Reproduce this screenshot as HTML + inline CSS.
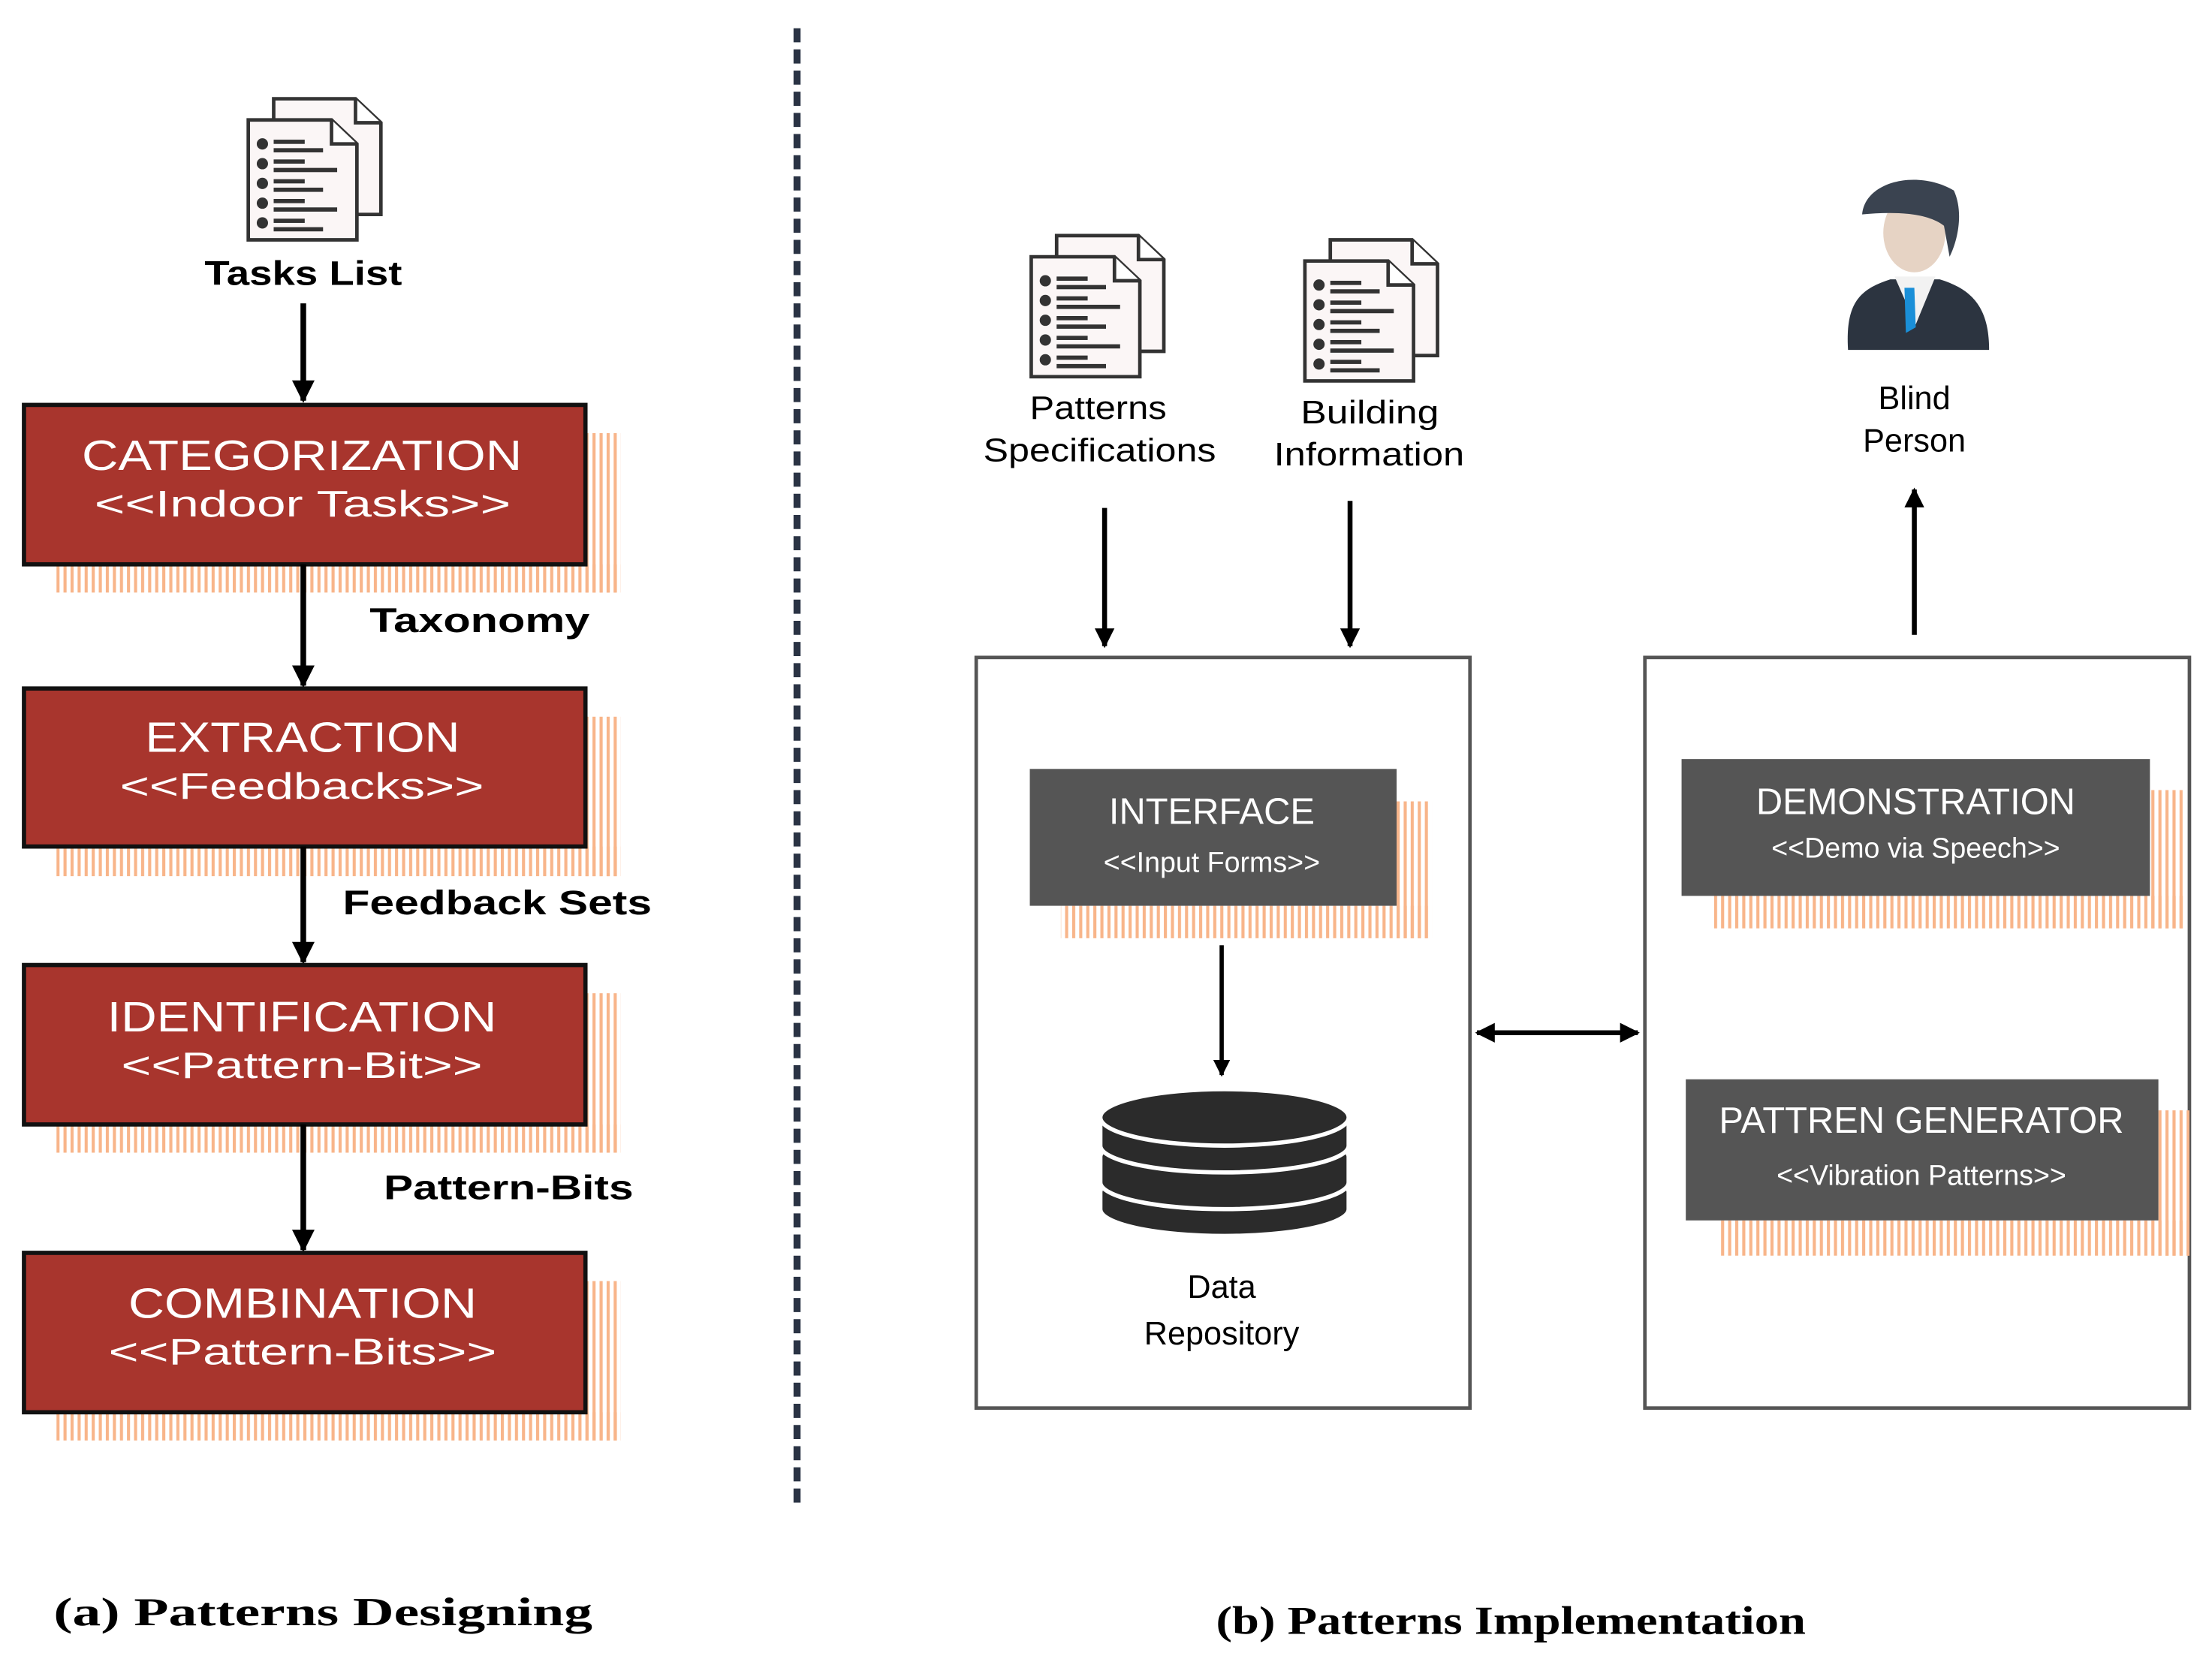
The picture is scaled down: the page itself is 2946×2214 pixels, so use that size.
<!DOCTYPE html>
<html><head><meta charset="utf-8"><style>
html,body{margin:0;padding:0;background:#fff;}
svg{display:block;}
text{font-family:"Liberation Sans",sans-serif;}
text.serif{font-family:"Liberation Serif",serif;}
</style></head><body>
<svg width="2946" height="2214" viewBox="0 0 1568 1178" preserveAspectRatio="none" xmlns="http://www.w3.org/2000/svg">
<defs>
<pattern id="hatch" width="5" height="10" patternUnits="userSpaceOnUse">
<rect x="0" y="0" width="2.2" height="10" fill="#f8b58a"/>
</pattern>
<marker id="ah" viewBox="0 0 10 10" refX="9" refY="5" markerWidth="4" markerHeight="4" orient="auto-start-reverse">
<path d="M0,0 L10,5 L0,10 z" fill="#000"/>
</marker>
<g id="doc">
<path d="M18,0 L76,0 L94,17 L94,82 L18,82 z" fill="#fbf6f6" stroke="#333" stroke-width="2.5"/>
<path d="M76,0 L76,17 L94,17" fill="#fff" stroke="#333" stroke-width="2.5"/>
<path d="M0,15 L59,15 L77,32 L77,100 L0,100 z" fill="#fbf6f6" stroke="#333" stroke-width="2.5"/>
<path d="M59,15 L59,32 L77,32" fill="#fff" stroke="#333" stroke-width="2.5"/>
<g fill="#333">
<circle cx="10" cy="32" r="4"/><rect x="18" y="29" width="22" height="3"/><rect x="18" y="35" width="35" height="3"/>
<circle cx="10" cy="46" r="4"/><rect x="18" y="43" width="22" height="3"/><rect x="18" y="49" width="45" height="3"/>
<circle cx="10" cy="60" r="4"/><rect x="18" y="57" width="22" height="3"/><rect x="18" y="63" width="35" height="3"/>
<circle cx="10" cy="74" r="4"/><rect x="18" y="71" width="22" height="3"/><rect x="18" y="77" width="45" height="3"/>
<circle cx="10" cy="88" r="4"/><rect x="18" y="85" width="22" height="3"/><rect x="18" y="91" width="35" height="3"/>
</g>
</g>
</defs>

<!-- Left side -->
<use href="#doc" x="176" y="70"/>
<text x="145" y="202" font-size="24" font-weight="bold" textLength="140" lengthAdjust="spacingAndGlyphs">Tasks List</text>
<line x1="215" y1="215" x2="215" y2="284" stroke="#000" stroke-width="4" marker-end="url(#ah)"/>

<g>
<rect x="415" y="307" width="25" height="113" fill="url(#hatch)"/>
<rect x="40" y="400" width="400" height="20" fill="url(#hatch)"/>
<rect x="17" y="287" width="398" height="113" fill="#a8352d" stroke="#111" stroke-width="3"/>
<text x="58" y="333" font-size="30" fill="#fff" textLength="312" lengthAdjust="spacingAndGlyphs">CATEGORIZATION</text>
<text x="67" y="366" font-size="26" fill="#fff" textLength="295" lengthAdjust="spacingAndGlyphs">&lt;&lt;Indoor Tasks&gt;&gt;</text>
</g>
<line x1="215" y1="400" x2="215" y2="486" stroke="#000" stroke-width="4" marker-end="url(#ah)"/>
<text x="262" y="448" font-size="24" font-weight="bold" textLength="156" lengthAdjust="spacingAndGlyphs">Taxonomy</text>

<g>
<rect x="415" y="508" width="25" height="113" fill="url(#hatch)"/>
<rect x="40" y="600" width="400" height="21" fill="url(#hatch)"/>
<rect x="17" y="488" width="398" height="112" fill="#a8352d" stroke="#111" stroke-width="3"/>
<text x="103" y="533" font-size="30" fill="#fff" textLength="223" lengthAdjust="spacingAndGlyphs">EXTRACTION</text>
<text x="85" y="566" font-size="26" fill="#fff" textLength="258" lengthAdjust="spacingAndGlyphs">&lt;&lt;Feedbacks&gt;&gt;</text>
</g>
<line x1="215" y1="600" x2="215" y2="682" stroke="#000" stroke-width="4" marker-end="url(#ah)"/>
<text x="243" y="648" font-size="24" font-weight="bold" textLength="219" lengthAdjust="spacingAndGlyphs">Feedback Sets</text>

<g>
<rect x="415" y="704" width="25" height="113" fill="url(#hatch)"/>
<rect x="40" y="797" width="400" height="20" fill="url(#hatch)"/>
<rect x="17" y="684" width="398" height="113" fill="#a8352d" stroke="#111" stroke-width="3"/>
<text x="76" y="731" font-size="30" fill="#fff" textLength="276" lengthAdjust="spacingAndGlyphs">IDENTIFICATION</text>
<text x="86" y="764" font-size="26" fill="#fff" textLength="256" lengthAdjust="spacingAndGlyphs">&lt;&lt;Pattern-Bit&gt;&gt;</text>
</g>
<line x1="215" y1="797" x2="215" y2="886" stroke="#000" stroke-width="4" marker-end="url(#ah)"/>
<text x="272" y="850" font-size="24" font-weight="bold" textLength="177" lengthAdjust="spacingAndGlyphs">Pattern-Bits</text>

<g>
<rect x="415" y="908" width="25" height="113" fill="url(#hatch)"/>
<rect x="40" y="1001" width="400" height="20" fill="url(#hatch)"/>
<rect x="17" y="888" width="398" height="113" fill="#a8352d" stroke="#111" stroke-width="3"/>
<text x="91" y="934" font-size="30" fill="#fff" textLength="247" lengthAdjust="spacingAndGlyphs">COMBINATION</text>
<text x="77" y="967" font-size="26" fill="#fff" textLength="275" lengthAdjust="spacingAndGlyphs">&lt;&lt;Pattern-Bits&gt;&gt;</text>
</g>

<line x1="565" y1="20" x2="565" y2="1066" stroke="#2a3344" stroke-width="5" stroke-dasharray="10,5"/>

<text class="serif" x="38" y="1152" font-size="28" font-weight="bold" textLength="382" lengthAdjust="spacingAndGlyphs">(a) Patterns Designing</text>
<text class="serif" x="862" y="1158" font-size="28" font-weight="bold" textLength="418" lengthAdjust="spacingAndGlyphs">(b) Patterns Implementation</text>

<!-- Right side -->
<use href="#doc" x="731" y="167"/>
<use href="#doc" x="925" y="170"/>
<text x="730" y="297" font-size="23" textLength="97" lengthAdjust="spacingAndGlyphs">Patterns</text>
<text x="697" y="327" font-size="23" textLength="165" lengthAdjust="spacingAndGlyphs">Specifications</text>
<text x="922" y="300" font-size="23" textLength="98" lengthAdjust="spacingAndGlyphs">Building</text>
<text x="903" y="330" font-size="23" textLength="135" lengthAdjust="spacingAndGlyphs">Information</text>
<line x1="783" y1="360" x2="783" y2="458" stroke="#000" stroke-width="3.5" marker-end="url(#ah)"/>
<line x1="957" y1="355" x2="957" y2="458" stroke="#000" stroke-width="3.5" marker-end="url(#ah)"/>

<!-- person -->
<g>
<path d="M1310,248 C1308,215 1318,205 1340,198 L1375,198 C1398,205 1410,218 1410,248 Z" fill="#2c3440"/>
<path d="M1343,196 L1358,230 L1372,196 Z" fill="#f2f2f2"/>
<path d="M1350,204 L1357,204 L1358,232 L1351,236 Z" fill="#1a8fd8"/>
<ellipse cx="1357" cy="165" rx="22" ry="28" fill="#e6d3c4"/>
<path d="M1320,152 C1322,128 1360,120 1385,135 C1392,150 1388,170 1382,182 L1378,160 C1365,150 1340,150 1320,152 Z" fill="#3a4350"/>
</g>
<text x="1357" y="290" font-size="23" text-anchor="middle">Blind</text>
<text x="1357" y="320" font-size="23" text-anchor="middle">Person</text>
<line x1="1357" y1="450" x2="1357" y2="347" stroke="#000" stroke-width="3.5" marker-end="url(#ah)"/>

<rect x="692" y="466" width="350" height="532" fill="none" stroke="#555" stroke-width="2.5"/>
<rect x="1166" y="466" width="386" height="532" fill="none" stroke="#555" stroke-width="2.5"/>

<rect x="990" y="568" width="25" height="97" fill="url(#hatch)"/>
<rect x="752" y="642" width="263" height="23" fill="url(#hatch)"/>
<rect x="730" y="545" width="260" height="97" fill="#555555"/>
<text x="859" y="584" font-size="26" fill="#fff" text-anchor="middle">INTERFACE</text>
<text x="859" y="618" font-size="20" fill="#fff" text-anchor="middle">&lt;&lt;Input Forms&gt;&gt;</text>

<line x1="866" y1="670" x2="866" y2="762" stroke="#000" stroke-width="3" marker-end="url(#ah)"/>

<g fill="#2b2b2b" stroke="#fff" stroke-width="3">
<path d="M780,845 L780,857 A88,19 0 0 0 956,857 L956,845 A88,19 0 0 0 780,845 Z"/>
<path d="M780,820 L780,838 A88,19 0 0 0 956,838 L956,820 A88,19 0 0 0 780,820 Z"/>
<path d="M780,795 L780,812 A88,19 0 0 0 956,812 L956,795 A88,19 0 0 0 780,795 Z"/>
<ellipse cx="868" cy="792" rx="88" ry="20"/>
</g>
<text x="866" y="920" font-size="23" text-anchor="middle">Data</text>
<text x="866" y="953" font-size="23" text-anchor="middle">Repository</text>

<line x1="1047" y1="732" x2="1161" y2="732" stroke="#000" stroke-width="3.5" marker-start="url(#ah)" marker-end="url(#ah)"/>

<rect x="1524" y="560" width="24" height="98" fill="url(#hatch)"/>
<rect x="1215" y="635" width="333" height="23" fill="url(#hatch)"/>
<rect x="1192" y="538" width="332" height="97" fill="#555555"/>
<text x="1358" y="577" font-size="26" fill="#fff" text-anchor="middle">DEMONSTRATION</text>
<text x="1358" y="608" font-size="20" fill="#fff" text-anchor="middle">&lt;&lt;Demo via Speech&gt;&gt;</text>

<rect x="1530" y="787" width="22" height="103" fill="url(#hatch)"/>
<rect x="1218" y="865" width="334" height="25" fill="url(#hatch)"/>
<rect x="1195" y="765" width="335" height="100" fill="#555555"/>
<text x="1362" y="803" font-size="26" fill="#fff" text-anchor="middle">PATTREN GENERATOR</text>
<text x="1362" y="840" font-size="20" fill="#fff" text-anchor="middle">&lt;&lt;Vibration Patterns&gt;&gt;</text>
</svg>
</body></html>
